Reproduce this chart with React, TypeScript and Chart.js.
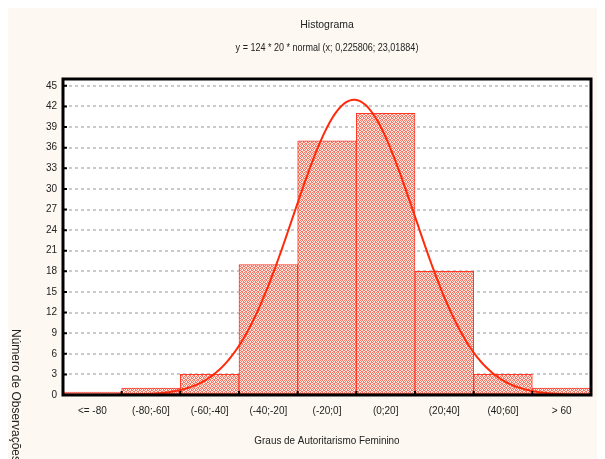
import { useEffect, useRef } from "react";
import { Chart, registerables } from "chart.js";

Chart.register(...registerables);

// ---- data ----
const categories = ["<= -80", "(-80;-60]", "(-60;-40]", "(-40;-20]", "(-20;0]", "(0;20]", "(20;40]", "(40;60]", "> 60"];
const counts = [0, 1, 3, 19, 37, 41, 18, 3, 1];
const yTickValues = [0, 3, 6, 9, 12, 15, 18, 21, 24, 27, 30, 33, 36, 39, 42, 45];
// fitted curve as stated in the subtitle: y = 124 * 20 * normal(x; 0,225806; 23,01884)
const fitN = 124;
const binWidth = 20;
const fitMean = 0.225806;
const fitSd = 23.01884;
const curveXMin = -100;
const curveXMax = 80;

const titleText = "Histograma";
const subtitleText = "y = 124 * 20 * normal (x; 0,225806; 23,01884)";
const xTitle = "Graus de Autoritarismo Feminino";
const yTitle = "Número de Observações";

const SANS = '"Liberation Sans", Arial, sans-serif';

function curvePoints() {
  const pts: { x: number; y: number }[] = [];
  for (let x = curveXMin; x <= curveXMax; x += 0.5) {
    const z = (x - fitMean) / fitSd;
    const y = (fitN * binWidth * Math.exp(-0.5 * z * z)) / (fitSd * Math.sqrt(2 * Math.PI));
    pts.push({ x, y });
  }
  return pts;
}

function makePattern(): CanvasPattern | string {
  const c = document.createElement("canvas");
  c.width = 4;
  c.height = 4;
  const g = c.getContext("2d");
  if (!g) return "#f5a598";
  g.fillStyle = "#ffe8e2";
  g.fillRect(0, 0, 4, 4);
  g.fillStyle = "#f57462";
  const red = [
    [0, 0], [2, 0], [1, 1], [3, 2], [0, 2], [2, 3], [1, 3], [3, 1],
  ];
  for (const [x, y] of red) g.fillRect(x, y, 1, 1);
  const p = g.createPattern(c, "repeat");
  return p || "#f5a598";
}

function condensedText(ctx: CanvasRenderingContext2D, text: string, x: number, y: number, factor: number) {
  ctx.save();
  ctx.translate(x, y);
  ctx.scale(factor, 1);
  ctx.fillText(text, 0, 0);
  ctx.restore();
}

const decorPlugin = {
  id: "decor",
  beforeDraw(chart: any) {
    const { ctx, chartArea: a, width, height } = chart;
    ctx.save();
    ctx.fillStyle = "#fdf9f2";
    ctx.fillRect(0, 0, width, height);
    ctx.fillStyle = "#ffffff";
    ctx.fillRect(a.left, a.top, a.right - a.left, a.bottom - a.top);
    ctx.restore();
  },
  afterDatasetsDraw(chart: any) {
    const { ctx, chartArea: a, scales } = chart;
    ctx.save();
    ctx.strokeStyle = "#000000";
    ctx.lineWidth = 3;
    ctx.strokeRect(a.left, a.top, a.right - a.left, a.bottom - a.top);
    ctx.lineWidth = 2;
    ctx.beginPath();
    for (const t of scales.y.ticks) {
      const py = scales.y.getPixelForValue(t.value);
      ctx.moveTo(a.left, py);
      ctx.lineTo(a.left + 4, py);
    }
    const n = categories.length;
    for (let i = 1; i < n; i++) {
      const px = (scales.x.getPixelForValue(i - 1) + scales.x.getPixelForValue(i)) / 2;
      ctx.moveTo(px, a.bottom);
      ctx.lineTo(px, a.bottom - 4);
    }
    ctx.stroke();
    ctx.restore();
  },
  afterDraw(chart: any) {
    const { ctx, chartArea: a } = chart;
    const cx = (a.left + a.right) / 2;
    ctx.save();
    ctx.fillStyle = "#222222";
    ctx.textAlign = "center";
    ctx.textBaseline = "middle";
    ctx.font = `11px ${SANS}`;
    condensedText(ctx, titleText, cx, 17, 0.95);
    condensedText(ctx, subtitleText, cx, 40, 0.82);
    condensedText(ctx, xTitle, cx, 433, 0.9);
    ctx.translate(8, 321);
    ctx.rotate(Math.PI / 2);
    ctx.textAlign = "left";
    ctx.font = `13px ${SANS}`;
    ctx.scale(0.92, 1);
    ctx.fillText(yTitle, 0, 0);
    ctx.restore();
  },
};

export default function App() {
  const ref = useRef<HTMLCanvasElement | null>(null);
  useEffect(() => {
    if (!ref.current) return;
    const pattern = makePattern();
    const chart = new Chart(ref.current, {
      type: "bar",
      data: {
        labels: categories,
        datasets: [
          {
            type: "bar",
            data: counts,
            backgroundColor: pattern as any,
            borderColor: "#ff3a28",
            borderWidth: 1,
            borderSkipped: false,
            barPercentage: 1,
            categoryPercentage: 1,
            grouped: false,
            minBarLength: 3,
            order: 2,
            xAxisID: "x",
          } as any,
          {
            type: "line",
            data: curvePoints() as any,
            xAxisID: "xc",
            borderColor: "#ff2a0a",
            borderWidth: 2,
            pointRadius: 0,
            tension: 0,
            fill: false,
            order: 1,
          } as any,
        ],
      },
      options: {
        responsive: false,
        animation: false,
        devicePixelRatio: 1,
        layout: { padding: { top: 71, left: 15, right: 14, bottom: 0 } },
        plugins: {
          legend: { display: false },
          tooltip: { enabled: false },
          title: { display: false },
        },
        scales: {
          x: {
            type: "category",
            offset: true,
            grid: { display: false, drawTicks: false, offset: true },
            border: { display: false },
            ticks: {
              font: { family: SANS, size: 10 },
              color: "#222222",
              padding: 10,
              maxRotation: 0,
              autoSkip: false,
            },
            afterFit: (s: any) => {
              s.height = 64;
            },
          },
          xc: {
            type: "linear",
            min: curveXMin,
            max: curveXMax,
            display: false,
          },
          y: {
            type: "linear",
            min: 0,
            max: 46,
            afterBuildTicks: (s: any) => {
              s.ticks = yTickValues.map((v) => ({ value: v }));
            },
            ticks: {
              stepSize: 3,
              font: { family: SANS, size: 10 },
              color: "#222222",
              padding: 6,
            },
            grid: { color: "#cacaca", lineWidth: 2, drawTicks: false },
            border: { display: false, dash: [3, 3] },
            afterFit: (s: any) => {
              s.width = 40;
            },
          },
        },
      },
      plugins: [decorPlugin],
    });
    return () => chart.destroy();
  }, []);
  return (
    <div style={{ width: 597, height: 451 }}>
      <canvas ref={ref} width={597} height={451} style={{ display: "block", width: 597, height: 451 }} />
    </div>
  );
}
